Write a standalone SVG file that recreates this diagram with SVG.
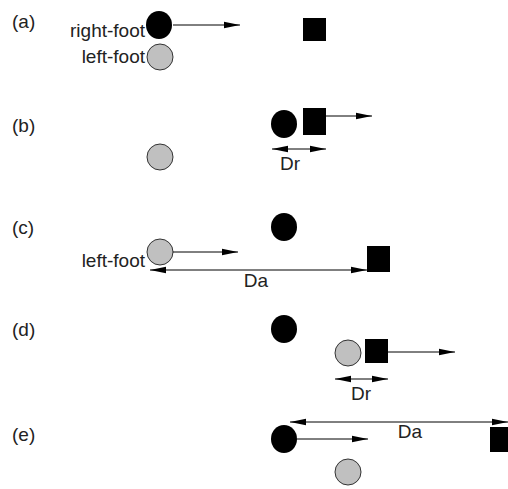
<svg xmlns="http://www.w3.org/2000/svg" width="508" height="489" viewBox="0 0 508 489">
<defs>
<style>
text{font-family:"Liberation Sans",Arial,sans-serif;font-size:19px;fill:#222}
.r{fill:#000}
.l{fill:#c0c0c0;stroke:#333;stroke-width:1}
.sq{fill:#000}
.ln{stroke:#000;stroke-width:1;fill:none}
.a{marker-end:url(#ah)}
.d{marker-end:url(#ah);marker-start:url(#ah)}
</style>
<marker id="ah" viewBox="0 0 16 8" refX="16" refY="4" markerWidth="16" markerHeight="8" markerUnits="userSpaceOnUse" orient="auto-start-reverse">
<path d="M0,0.8 L16,4 L0,7.2 z" fill="#000"/>
</marker>
</defs>
<rect width="508" height="489" fill="#fff"/>
<g id="labels">
<text x="12" y="28">(a)</text>
<text x="12" y="132">(b)</text>
<text x="12" y="234">(c)</text>
<text x="12" y="336">(d)</text>
<text x="12" y="441">(e)</text>
</g>
<g id="a-right"><ellipse class="r" cx="159" cy="25" rx="13" ry="14"/><text x="145" y="37" text-anchor="end">right-foot</text></g>
<g id="a-left"><circle class="l" cx="160" cy="57" r="13"/><text x="145" y="63" text-anchor="end">left-foot</text></g>
<g id="a-sq"><rect class="sq" x="303" y="18" width="23" height="23"/></g>
<g id="b-right"><ellipse class="r" cx="284" cy="124" rx="13" ry="14"/></g>
<g id="b-sq"><rect class="sq" x="303" y="108" width="23" height="27"/></g>
<g id="b-left"><circle class="l" cx="160" cy="157" r="13"/></g>
<text x="290" y="170" text-anchor="middle">Dr</text>
<g id="c-right"><ellipse class="r" cx="284" cy="227" rx="13" ry="14"/></g>
<g id="c-left"><circle class="l" cx="160" cy="252" r="13"/><text x="145" y="267" text-anchor="end">left-foot</text></g>
<g id="c-sq"><rect class="sq" x="367" y="246" width="23" height="26"/></g>
<text x="256" y="287" text-anchor="middle">Da</text>
<g id="d-right"><ellipse class="r" cx="284" cy="329" rx="13" ry="14"/></g>
<g id="d-left"><circle class="l" cx="348" cy="353" r="13"/></g>
<g id="d-sq"><rect class="sq" x="365" y="339" width="23" height="24"/></g>
<text x="361" y="400" text-anchor="middle">Dr</text>
<g id="e-right"><ellipse class="r" cx="284" cy="439" rx="13" ry="14"/></g>
<g id="e-left"><circle class="l" cx="348" cy="472" r="13"/></g>
<g id="e-sq"><rect class="sq" x="490" y="427" width="23" height="25"/></g>
<text x="410" y="438" text-anchor="middle">Da</text>
<g id="connectors">
<line class="ln a" x1="173" y1="25" x2="240" y2="25"/>
<line class="ln a" x1="326" y1="116" x2="372" y2="116"/>
<line class="ln d" x1="272" y1="149" x2="326" y2="149"/>
<line class="ln a" x1="173" y1="252" x2="238" y2="252"/>
<line class="ln d" x1="150" y1="270" x2="367" y2="270"/>
<line class="ln a" x1="388" y1="352" x2="455" y2="352"/>
<line class="ln d" x1="335" y1="379" x2="388" y2="379"/>
<line class="ln a" x1="297" y1="439" x2="368" y2="439"/>
<line class="ln d" x1="290" y1="422" x2="508" y2="422"/>
</g>
</svg>
